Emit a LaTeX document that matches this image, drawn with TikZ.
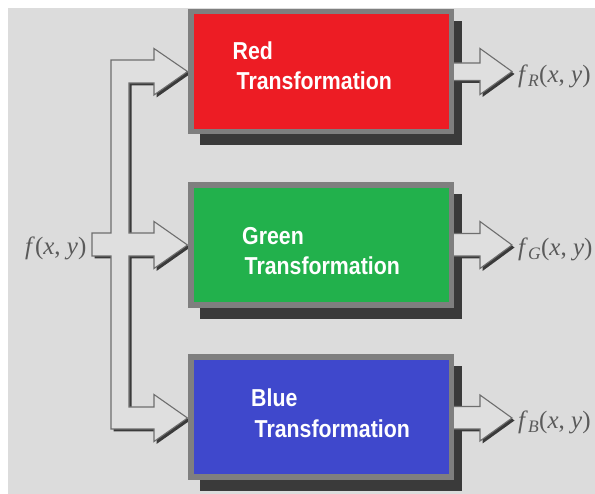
\documentclass[tikz,border=0pt]{standalone}
\usepackage{fontspec}
\setmainfont{Liberation Serif}
\newfontfamily\boxfont[FakeStretch=0.87]{Liberation Sans}
\definecolor{bgc}{HTML}{DCDCDC}
\definecolor{framec}{HTML}{7F7F7F}
\definecolor{shadc}{HTML}{3A3A3A}
\definecolor{linec}{HTML}{6E6E6E}
\definecolor{arrowc}{HTML}{DFDFDF}
\definecolor{labelc}{HTML}{5A5A5A}
\definecolor{redc}{HTML}{ED1C24}
\definecolor{greenc}{HTML}{22B14C}
\definecolor{bluec}{HTML}{3F48CC}
\tikzset{
  tbox/.style={draw=framec, line width=5.5pt, minimum width=260.5pt,
    minimum height=120pt, inner sep=0pt},
  boxshadow/.style={fill=shadc},
  hollow/.style={draw=linec, line width=1.1pt, fill=arrowc, line join=miter},
  hollowshadow/.style={fill=shadc},
  boxtext/.style={text=white, font=\boxfont\bfseries\fontsize{24.5}{30}\selectfont,
    anchor=base west, inner sep=0pt},
  sig/.style={text=labelc, font=\fontsize{25}{30}\selectfont,
    anchor=base west, inner sep=0pt},
  % the splitting bus that feeds all three transformations
  bus/.style={insert path={
    (92,233) -- (111,233) -- (111,60) -- (154,60) -- (154,48.5) -- (187.5,71.5)
    -- (154,95) -- (154,83) -- (129,83) -- (129,233) -- (154,233) -- (154,221.5)
    -- (187.5,245) -- (154,268.5) -- (154,256) -- (129,256) -- (129,407)
    -- (154,407) -- (154,394.5) -- (187.5,418) -- (154,441.5) -- (154,429)
    -- (111,429) -- (111,256) -- (92,256) -- cycle}},
  outred/.style={insert path={
    (448,63) -- (480,63) -- (480,48.5) -- (512,71.5) -- (480,94.5)
    -- (480,80.5) -- (448,80.5) -- cycle}},
  outgreen/.style={insert path={
    (448,233.5) -- (480,233.5) -- (480,221.5) -- (512,245) -- (480,268.5)
    -- (480,256) -- (448,256) -- cycle}},
  outblue/.style={insert path={
    (448,406.5) -- (480,406.5) -- (480,395) -- (512,418) -- (480,441)
    -- (480,429) -- (448,429) -- cycle}},
}
\begin{document}
\begin{tikzpicture}[x=1pt,y=-1pt]
  \useasboundingbox (0,0) rectangle (595,494);
  \fill[white] (0,0) rectangle (595,494);
  \fill[bgc] (8,8) rectangle (595,494);

  % transformation blocks (placed first so anchors exist)
  \path (321,71.5) node[tbox, draw=none] (red) {}
        (321,245) node[tbox, draw=none] (green) {}
        (321,417) node[tbox, draw=none] (blue) {};

  % drop shadows of the blocks
  \foreach \b in {red,green,blue}
    \fill[boxshadow] ([xshift=12pt,yshift=-12pt]\b.north west)
                     rectangle ([xshift=8pt,yshift=-11pt]\b.south east);

  % hollow arrows with their shadows
  \begin{scope}[shift={(2.5,2.5)}]
    \fill[hollowshadow, bus];
    \fill[hollowshadow, outred];
    \fill[hollowshadow, outgreen];
    \fill[hollowshadow, outblue];
  \end{scope}
  \path[hollow, bus];
  \path[hollow, outred];
  \path[hollow, outgreen];
  \path[hollow, outblue];

  % the blocks themselves
  \node[tbox, fill=redc]   (redbox)   at (red)   {};
  \node[tbox, fill=greenc] (greenbox) at (green) {};
  \node[tbox, fill=bluec]  (bluebox)  at (blue)  {};

  \node[boxtext] (redA)   at (232.5,59.5) {Red};
  \node[boxtext] (redB)   at (236.5,90)   {Transformation};
  \node[boxtext] (greenA) at (242,244.5)  {Green};
  \node[boxtext] (greenB) at (244.5,274.5) {Transformation};
  \node[boxtext] (blueA)  at (251,406.5)  {Blue};
  \node[boxtext] (blueB)  at (254.5,437.5) {Transformation};

  % signals
  \node[sig] (fin) at (25,255) {\textit{f}(\textit{x}, \textit{y})};
  \node[sig] (fR) at (518,83)  {\textit{f}\textsubscript{\textit{R}}(\textit{x}, \textit{y})};
  \node[sig] (fG) at (518,256) {\textit{f}\textsubscript{\textit{G}}(\textit{x}, \textit{y})};
  \node[sig] (fB) at (518,429) {\textit{f}\textsubscript{\textit{B}}(\textit{x}, \textit{y})};
\end{tikzpicture}
\end{document}
